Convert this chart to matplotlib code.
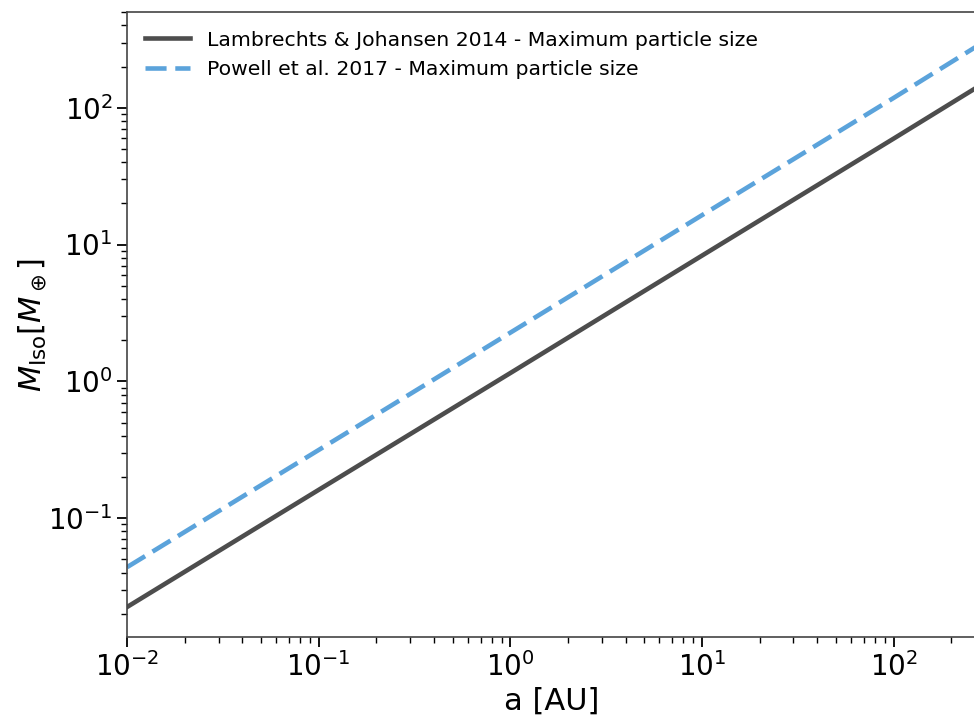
import numpy as np
import matplotlib
matplotlib.use('Agg')
import matplotlib.pyplot as plt

# semimajor axis [AU] and isolation masses
a_au = [0.01, 0.1, 1.0, 10.0, 100.0, 272.0]
m_lambrechts = [0.0224, 0.161, 1.15, 8.3, 59.5, 141.0]
m_powell = [0.0438, 0.315, 2.27, 16.4, 118.0, 282.0]

labels = ['Lambrechts & Johansen 2014 - Maximum particle size',
          'Powell et al. 2017 - Maximum particle size']

fig = plt.figure(figsize=(9.74, 7.15), dpi=100)
ax = fig.add_axes([0.1305, 0.109, 0.8725, 0.874])

ax.plot(a_au, m_lambrechts, color='#4d4d4d', lw=3.3, ls='-', label=labels[0])
ax.plot(a_au, m_powell, color='#5ba3db', lw=3.3, ls=(0, (4.6, 1.9)), label=labels[1])

ax.set_xscale('log')
ax.set_yscale('log')
ax.set_xlim(0.01, 272)
ax.set_ylim(0.0135, 500)

ax.set_xlabel('a [AU]', fontsize=22)
ax.set_ylabel(r'$M_{\rm Iso} [M_\oplus]$', fontsize=22, labelpad=-0.5)

ax.tick_params(axis='both', which='major', labelsize=20, length=7, width=1.3)
ax.tick_params(axis='both', which='minor', length=4, width=1.0)
for s in ax.spines.values():
    s.set_color('#444444')
    s.set_linewidth(1.2)

ax.legend(loc='upper left', frameon=False, fontsize=14.7, handlelength=2.2)

fig.savefig('out.png', dpi=100)
